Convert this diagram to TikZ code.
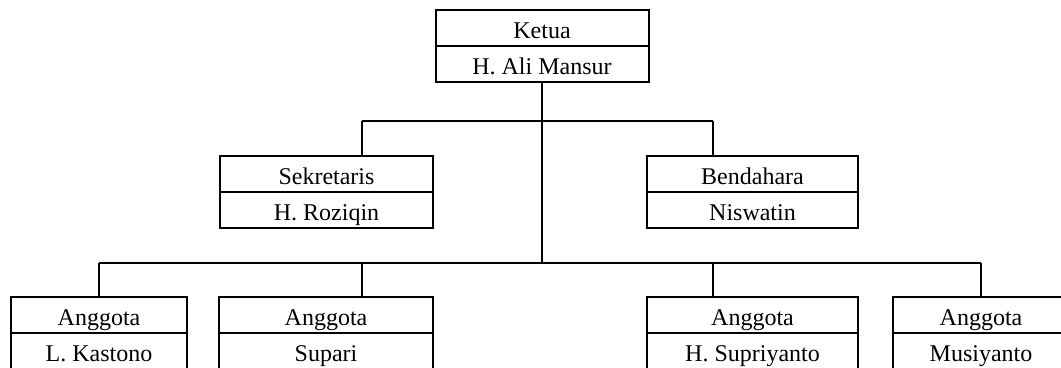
\documentclass[tikz,border=0pt]{standalone}
\usepackage{fontspec}
\setmainfont{Liberation Serif}
\usetikzlibrary{positioning}

\begin{document}
\begin{tikzpicture}[
    x=0.5pt, y=-0.5pt,
    role/.style={
        draw, line width=1pt,
        minimum width=#1, minimum height=18pt,
        inner sep=0pt, outer sep=0pt,
        text height=11pt, text depth=0pt,
        font=\fontsize{12}{14}\selectfont
    },
    link/.style={line width=1pt}
]
\clip (0,0) rectangle (1061,368);

\node[role=106.5pt] (ketua) at (542,28) {Ketua};
\node[role=106.5pt, below=0pt of ketua] (ketuaNm) {H. Ali Mansur};

\node[role=106.5pt] (sek) at (326.5,174) {Sekretaris};
\node[role=106.5pt, below=0pt of sek] (sekNm) {H. Roziqin};
\node[role=105.5pt] (ben) at (752.5,174) {Bendahara};
\node[role=105.5pt, below=0pt of ben] (benNm) {Niswatin};

\node[role=88pt] (ang1) at (99,315) {Anggota};
\node[role=88pt, below=0pt of ang1] (ang1Nm) {L. Kastono};
\node[role=107pt] (ang2) at (326,315) {Anggota};
\node[role=107pt, below=0pt of ang2] (ang2Nm) {Supari};
\node[role=105.5pt] (ang3) at (752.5,315) {Anggota};
\node[role=105.5pt, below=0pt of ang3] (ang3Nm) {H. Supriyanto};
\node[role=88pt] (ang4) at (981,315) {Anggota};
\node[role=88pt, below=0pt of ang4] (ang4Nm) {Musiyanto};

\coordinate (jL) at (362,121);
\coordinate (jR) at (713,121);
\coordinate (kL) at (99,263);
\coordinate (kR) at (981,263);

\draw[link] (ketuaNm.south) -- (ketuaNm.south |- kL);
\draw[link] (jL) -- (jR);
\draw[link] (jL) -- (jL |- sek.north);
\draw[link] (jR) -- (jR |- ben.north);
\draw[link] (kL) -- (kR);
\draw[link] (kL) -- (ang1.north);
\draw[link] (jL |- kL) -- (jL |- ang2.north);
\draw[link] (jR |- kL) -- (jR |- ang3.north);
\draw[link] (kR) -- (ang4.north);
\end{tikzpicture}
\end{document}
